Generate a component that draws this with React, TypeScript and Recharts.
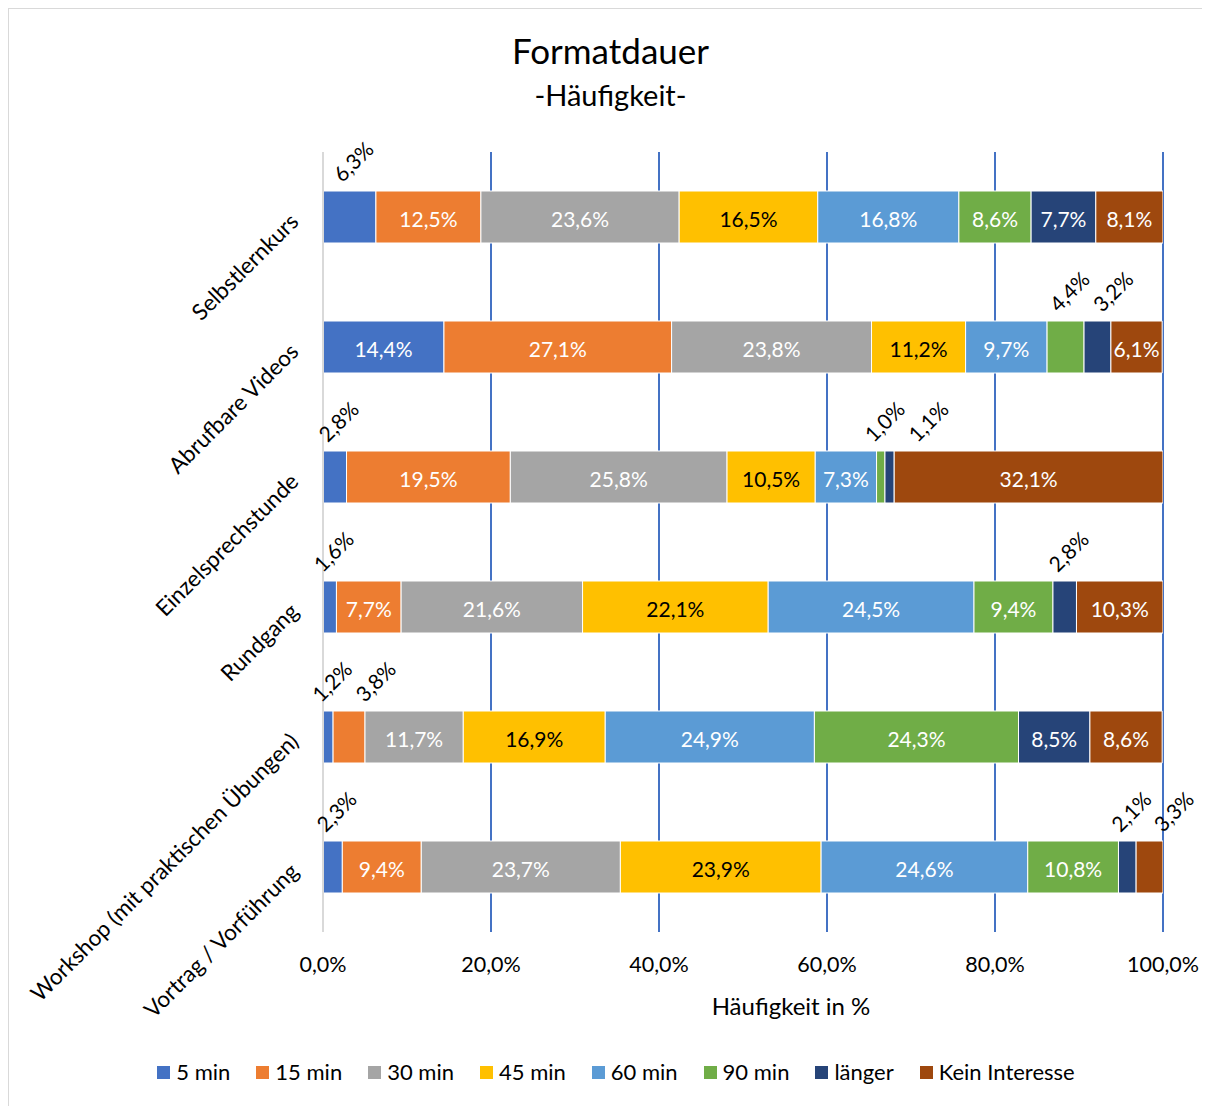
import { BarChart, Bar, XAxis, YAxis, CartesianGrid, LabelList } from 'recharts'

const categories = [
  'Selbstlernkurs',
  'Abrufbare Videos',
  'Einzelsprechstunde',
  'Rundgang',
  'Workshop (mit praktischen Übungen)',
  'Vortrag / Vorführung',
]
const seriesNames = ['5 min', '15 min', '30 min', '45 min', '60 min', '90 min', 'länger', 'Kein Interesse']
const min5 = [6.3, 14.4, 2.8, 1.6, 1.2, 2.3]
const min15 = [12.5, 27.1, 19.5, 7.7, 3.8, 9.4]
const min30 = [23.6, 23.8, 25.8, 21.6, 11.7, 23.7]
const min45 = [16.5, 11.2, 10.5, 22.1, 16.9, 23.9]
const min60 = [16.8, 9.7, 7.3, 24.5, 24.9, 24.6]
const min90 = [8.6, 4.4, 1.0, 9.4, 24.3, 10.8]
const laenger = [7.7, 3.2, 1.1, 2.8, 8.5, 2.1]
const keinInteresse = [8.1, 6.1, 32.1, 10.3, 8.6, 3.3]
const xTicks = [0, 20, 40, 60, 80, 100]
// which series (by index) carry their label above the bar, per category
const outsideLabels = [[0], [5, 6], [0, 5, 6], [0, 6], [0, 1], [0, 6, 7]]

const seriesValues = [min5, min15, min30, min45, min60, min90, laenger, keinInteresse]
const COLORS = ['#4472C4', '#ED7D31', '#A5A5A5', '#FFC000', '#5B9BD5', '#70AD47', '#264478', '#9E480E']
const FONT = 'Lato, "Open Sans", sans-serif'

const rows = categories.map((name, i) => {
  const r: Record<string, string | number> = { name }
  seriesNames.forEach((s, si) => (r[s] = seriesValues[si][i]))
  return r
})

// shift (in value units) for labels placed above the bar so they don't collide
const labelShift = categories.map((_, i) => {
  const out: Record<number, number> = {}
  let cum = 0
  let prev = -Infinity
  seriesValues.forEach((arr, si) => {
    const v = arr[i]
    if (outsideLabels[i].includes(si)) {
      const raw = cum + v / 2
      let c = raw + 0.4
      if (c < prev + 5.2) c = prev + 5.2
      out[si] = c - raw
      prev = c
    }
    cum += v
  })
  return out
})

const pct = (v: number) => v.toFixed(1).replace('.', ',') + '%'

const makeLabel = (si: number) => (props: any) => {
  const vb = props.viewBox || {}
  const x = Number(vb.x ?? props.x)
  const y = Number(vb.y ?? props.y)
  const w = Number(vb.width ?? props.width)
  const h = Number(vb.height ?? props.height)
  const idx = Number(props.index)
  const v = Number(props.value)
  if (!isFinite(x) || !isFinite(v) || !(idx >= 0)) return null
  if (outsideLabels[idx]?.includes(si)) {
    const cx = x + w / 2 + (labelShift[idx][si] * w) / v
    const cy = y - 30
    return (
      <text
        x={cx}
        y={cy}
        transform={`rotate(-45, ${cx}, ${cy})`}
        textAnchor="middle"
        dominantBaseline="central"
        fontSize={21}
        fontFamily={FONT}
        fill="#000"
      >
        {pct(v)}
      </text>
    )
  }
  return (
    <text
      x={x + w / 2}
      y={y + h / 2 + 1}
      textAnchor="middle"
      dominantBaseline="central"
      fontSize={21}
      fontFamily={FONT}
      fill={si === 3 ? '#000' : '#fff'}
    >
      {pct(v)}
    </text>
  )
}

function CategoryTick({ x, y, payload }: any) {
  const tx = x - 15
  const ty = y + 6
  return (
    <text
      x={tx}
      y={ty}
      transform={`rotate(-45, ${tx}, ${ty})`}
      textAnchor="end"
      fontSize={22.5}
      fontFamily={FONT}
      fill="#000"
    >
      {payload.value}
    </text>
  )
}

function ValueTick({ x, y, payload }: any) {
  return (
    <text x={x} y={y + 24} textAnchor="middle" dominantBaseline="central" fontSize={21.5} fontFamily={FONT} fill="#000">
      {pct(payload.value)}
    </text>
  )
}

export default function App() {
  return (
    <div
      style={{
        position: 'relative',
        width: 1205,
        height: 1100,
        border: '1px solid #d9d9d9',
        background: '#fff',
        fontFamily: FONT,
        color: '#000',
      }}
    >
      <style>{'html,body{overflow:hidden}'}</style>
      <div style={{ position: 'absolute', top: 24, left: 0, width: 1203, textAlign: 'center', fontSize: 35, lineHeight: 1 }}>
        Formatdauer
      </div>
      <div style={{ position: 'absolute', top: 71, left: 0, width: 1203, textAlign: 'center', fontSize: 29, lineHeight: 1 }}>
        -Häufigkeit-
      </div>
      <div style={{ position: 'absolute', top: 0, left: 0 }}>
        <BarChart
          layout="vertical"
          width={1200}
          height={1040}
          data={rows}
          margin={{ top: 143, right: 46, bottom: 57, left: 0 }}
          barCategoryGap="30%"
        >
          <CartesianGrid horizontal={false} stroke="#4472C4" strokeWidth={2} />
          <XAxis
            type="number"
            domain={[0, 100]}
            ticks={xTicks}
            allowDataOverflow
            axisLine={false}
            tickLine={false}
            tick={<ValueTick />}
            height={60}
          />
          <YAxis
            type="category"
            dataKey="name"
            width={314}
            axisLine={{ stroke: '#d9d9d9', strokeWidth: 2 }}
            tickLine={false}
            tick={<CategoryTick />}
            interval={0}
          />
          {seriesNames.map((s, si) => (
            <Bar
              key={s}
              dataKey={s}
              stackId="a"
              fill={COLORS[si]}
              stroke="#fff"
              strokeWidth={1}
              barSize={52}
              isAnimationActive={false}
            >
              <LabelList dataKey={s} content={makeLabel(si)} />
            </Bar>
          ))}
        </BarChart>
      </div>
      <div
        style={{
          position: 'absolute',
          top: 985,
          left: 782,
          transform: 'translateX(-50%)',
          fontSize: 24,
          lineHeight: 1,
          whiteSpace: 'nowrap',
        }}
      >
        Häufigkeit in %
      </div>
      <div
        style={{
          position: 'absolute',
          top: 1050,
          left: 7,
          width: 1200,
          display: 'flex',
          justifyContent: 'center',
          gap: 26,
          fontSize: 22,
          lineHeight: '26px',
        }}
      >
        {seriesNames.map((s, si) => (
          <div key={s} style={{ display: 'flex', alignItems: 'center', gap: 6 }}>
            <span style={{ width: 13, height: 13, background: COLORS[si], display: 'inline-block' }} />
            <span>{s}</span>
          </div>
        ))}
      </div>
    </div>
  )
}
